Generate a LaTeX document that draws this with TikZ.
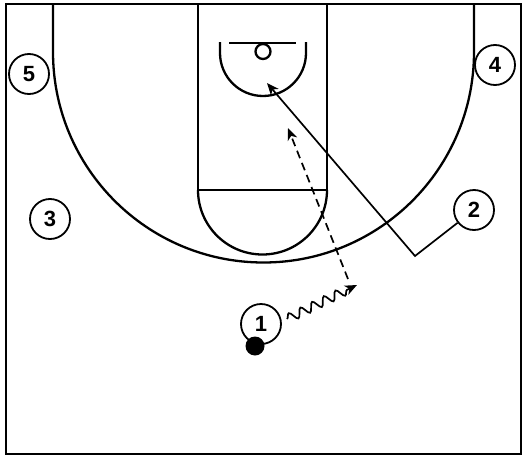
\documentclass[tikz,border=0pt]{standalone}
\usepackage{fontspec}
\setmainfont{Liberation Sans}
\usetikzlibrary{arrows.meta,decorations.pathmorphing}
\begin{document}
\begin{tikzpicture}[x=1pt,y=1pt,
  court/.style={line width=2.3pt,black},
  player/.style={circle,draw,line width=1.8pt,minimum size=40pt,inner sep=0pt,
    font=\fontsize{22}{22}\selectfont\bfseries},
  move/.style={line width=1.7pt,-{Stealth[length=12pt,width=10pt,inset=3.5pt]}},
  pass/.style={move,dash pattern=on 8pt off 5pt},
  dribble/.style={move,decorate,decoration={snake,amplitude=4.5pt,segment length=13pt,post length=10pt}}]
\useasboundingbox (0,0) rectangle (525,-458);
% court
\draw[line width=2.8pt] (6,-4) rectangle (521,-454);
\draw[court] (198,-4) -- (198,-190) -- (327,-190) -- (327,-4);
\draw[court] (198,-190) arc[start angle=180,end angle=360,radius=64.5pt];
\draw[court] (53,-4) -- (53,-52) arc[start angle=180,end angle=360,radius=210.5pt] -- (474,-4);
\draw[court] (220,-42) -- (220,-53) arc[start angle=180,end angle=360,radius=43pt] -- (306,-42);
\draw[court] (229,-43) -- (296,-43);
\draw[court] (263,-51.5) circle[radius=7.5pt];
% players
\node[player] (p5) at (29,-74) {5};
\node[player] (p4) at (495,-65) {4};
\node[player] (p3) at (50,-219) {3};
\node[player] (p2) at (474,-210) {2};
\node[player] (p1) at (261,-324) {1};
\node[circle,fill=black,minimum size=19pt,inner sep=0pt] (ball) at (255,-346) {};
% movements
\coordinate (c2) at (415,-256);
\coordinate (t2) at (267,-83);
\draw[move] (p2) -- (c2) -- (t2);
\coordinate (d0) at (287,-319);
\coordinate (d1) at (357,-285);
\draw[dribble] (d0) -- (d1);
\coordinate (s0) at (348,-279);
\coordinate (s1) at (288,-128);
\draw[pass] (s0) -- (s1);
\end{tikzpicture}
\end{document}
